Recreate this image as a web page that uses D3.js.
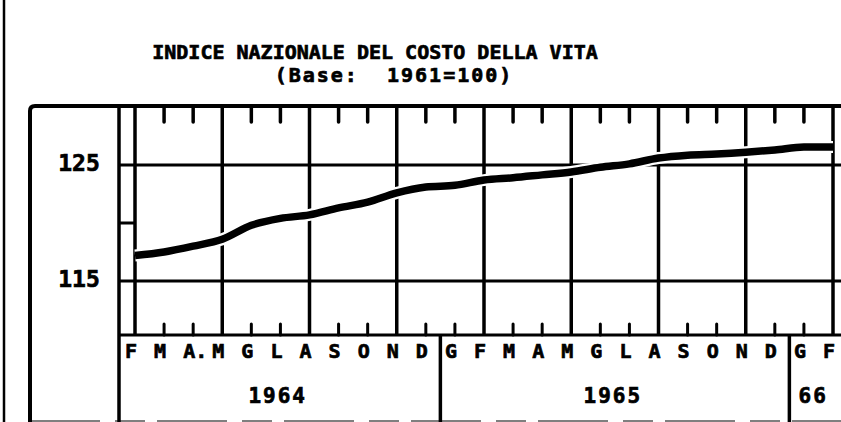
<!DOCTYPE html>
<html>
<head>
<meta charset="utf-8">
<script src="https://cdn.jsdelivr.net/npm/d3@7"></script>
<style>
  html, body { margin: 0; padding: 0; background: #fff; }
  svg { display: block; }
  text { font-family: 'DejaVu Sans Mono', 'Liberation Mono', monospace; font-weight: bold; fill: #000; stroke: #000; stroke-width: 0.7px; }
</style>
</head>
<body>
<svg class="chart"></svg>
<script>
// Months from Feb 1964 to Feb 1966 (index 0 = Feb 1964)
const monthLabels = ['F', 'M', 'A.', 'M', 'G', 'L', 'A', 'S', 'O', 'N', 'D',
  'G', 'F', 'M', 'A', 'M', 'G', 'L', 'A', 'S', 'O', 'N', 'D',
  'G', 'F'];

// Cost of living index
const indexValues = [117.2, 117.5, 118.0, 118.6, 119.8, 120.4, 120.7, 121.3, 121.8, 122.6, 123.1,
  123.25, 123.7, 123.9, 124.15, 124.4, 124.8, 125.1, 125.6, 125.85, 125.95, 126.1, 126.3,
  126.55, 126.55];

const yearLabels = ['1964', '1965', '66'];
const yearStarts = [0, 11, 23];   // first month index of each year
const yTickLabels = [115, 125];
const yMinorTicks = [120];

const svgWidth = 841;
const svgHeight = 422;

const svg = d3.select('.chart')
  .attr('width', svgWidth)
  .attr('height', svgHeight);

// plot box
const frameLeft = 30;
const axisLeft = 119;
const plotLeft = 135;
const plotTop = 106;
const plotBottom = 335;

const xScale = d3.scaleLinear()
  .domain([0, monthLabels.length - 1])
  .range([135, 833]);

const yScale = d3.scaleLinear()
  .domain([115, 125])
  .range([281, 165]);

const data = indexValues.map((v, i) => ({ i: i, v: v }));

// page edge on the left
svg.append('line')
  .attr('x1', 4).attr('x2', 4)
  .attr('y1', 0).attr('y2', svgHeight)
  .attr('stroke', '#000')
  .attr('stroke-width', 2.5);

// outer frame (top + left with rounded corner)
svg.append('path')
  .attr('d', `M${frameLeft},${svgHeight} L${frameLeft},${plotTop + 5} Q${frameLeft},${plotTop} ${frameLeft + 5},${plotTop} L${svgWidth},${plotTop}`)
  .attr('fill', 'none')
  .attr('stroke', '#000')
  .attr('stroke-width', 4);

// bottom edge, broken as in the scan
svg.append('line')
  .attr('x1', frameLeft).attr('x2', svgWidth)
  .attr('y1', 421).attr('y2', 421)
  .attr('stroke', '#000')
  .attr('stroke-width', 1.2)
  .attr('stroke-dasharray', '70 15 30 12');

// axis column line
svg.append('line')
  .attr('x1', axisLeft).attr('x2', axisLeft)
  .attr('y1', plotTop).attr('y2', svgHeight)
  .attr('stroke', '#000').attr('stroke-width', 3.5);

// horizontal grid lines (115 and 125)
svg.selectAll('line.hgrid')
  .data(yTickLabels)
  .enter()
  .append('line')
  .attr('class', 'hgrid')
  .attr('x1', axisLeft).attr('x2', svgWidth)
  .attr('y1', d => yScale(d)).attr('y2', d => yScale(d))
  .attr('stroke', '#000').attr('stroke-width', 3);

// minor tick in axis column
svg.selectAll('line.yminor')
  .data(yMinorTicks)
  .enter()
  .append('line')
  .attr('class', 'yminor')
  .attr('x1', axisLeft).attr('x2', plotLeft)
  .attr('y1', d => yScale(d)).attr('y2', d => yScale(d))
  .attr('stroke', '#000').attr('stroke-width', 3);

// y labels
svg.selectAll('text.ylabel')
  .data(yTickLabels)
  .enter()
  .append('text')
  .attr('class', 'ylabel')
  .attr('x', 79)
  .attr('y', d => yScale(d) + 6)
  .attr('text-anchor', 'middle')
  .attr('font-size', '23px')
  .text(d => d);

// vertical grid lines every third month (F, M, A, N)
const majorMonths = d3.range(0, monthLabels.length, 3);
const minorMonths = d3.range(0, monthLabels.length).filter(i => i % 3 !== 0);

svg.selectAll('line.vgrid')
  .data(majorMonths)
  .enter()
  .append('line')
  .attr('class', 'vgrid')
  .attr('x1', d => xScale(d)).attr('x2', d => xScale(d))
  .attr('y1', plotTop).attr('y2', plotBottom)
  .attr('stroke', '#000').attr('stroke-width', 3.5);

// small ticks at top and bottom for the other months
svg.selectAll('line.toptick')
  .data(minorMonths)
  .enter()
  .append('line')
  .attr('class', 'toptick')
  .attr('x1', d => xScale(d)).attr('x2', d => xScale(d))
  .attr('y1', plotTop).attr('y2', plotTop + 16)
  .attr('stroke', '#000').attr('stroke-width', 3.5)
  .attr('stroke-linecap', 'round');

svg.selectAll('line.bottick')
  .data(minorMonths)
  .enter()
  .append('line')
  .attr('class', 'bottick')
  .attr('x1', d => xScale(d)).attr('x2', d => xScale(d))
  .attr('y1', plotBottom - 11).attr('y2', plotBottom)
  .attr('stroke', '#000').attr('stroke-width', 3)
  .attr('stroke-linecap', 'round');

// bottom of plot area
svg.append('line')
  .attr('x1', axisLeft).attr('x2', svgWidth)
  .attr('y1', plotBottom).attr('y2', plotBottom)
  .attr('stroke', '#000').attr('stroke-width', 3);

// the index line, with a white halo where it crosses the grid
const line = d3.line()
  .x(d => xScale(d.i))
  .y(d => yScale(d.v))
  .curve(d3.curveMonotoneX);

svg.append('path')
  .datum(data)
  .attr('fill', 'none')
  .attr('stroke', '#fff')
  .attr('stroke-width', 12)
  .attr('d', line);

svg.append('path')
  .datum(data)
  .attr('fill', 'none')
  .attr('stroke', '#000')
  .attr('stroke-width', 7.5)
  .attr('d', line);

// month letters
const monthSize = 20;
const charW = monthSize * 0.602;
svg.selectAll('text.month')
  .data(monthLabels)
  .enter()
  .append('text')
  .attr('class', 'month')
  .attr('x', (d, i) => xScale(i) - 4 - charW / 2)
  .attr('y', 358)
  .attr('font-size', monthSize + 'px')
  .text(d => d);

// year separators between December and January
const separators = yearStarts.slice(1).map(s => xScale(s - 0.5));
svg.selectAll('line.ysep')
  .data(separators)
  .enter()
  .append('line')
  .attr('class', 'ysep')
  .attr('x1', d => d).attr('x2', d => d)
  .attr('y1', plotBottom).attr('y2', svgHeight)
  .attr('stroke', '#000').attr('stroke-width', 3.5);

// year labels centred in their cells
const cellEdges = [axisLeft].concat(separators).concat([svgWidth]);
svg.selectAll('text.year')
  .data(yearLabels)
  .enter()
  .append('text')
  .attr('class', 'year')
  .attr('x', (d, i) => (cellEdges[i] + cellEdges[i + 1]) / 2 - 2)
  .attr('y', 403)
  .attr('text-anchor', 'middle')
  .attr('font-size', '21px')
  .attr('letter-spacing', '2px')
  .text(d => d);

// title
svg.append('text')
  .attr('x', 375)
  .attr('y', 59)
  .attr('text-anchor', 'middle')
  .attr('font-size', '20px')
  .text('INDICE NAZIONALE DEL COSTO DELLA VITA');

svg.append('text')
  .attr('x', 394)
  .attr('y', 82)
  .attr('text-anchor', 'middle')
  .attr('font-size', '20px')
  .attr('letter-spacing', '2px')
  .style('white-space', 'pre')
  .text('(Base:  1961=100)');
</script>
</body>
</html>
